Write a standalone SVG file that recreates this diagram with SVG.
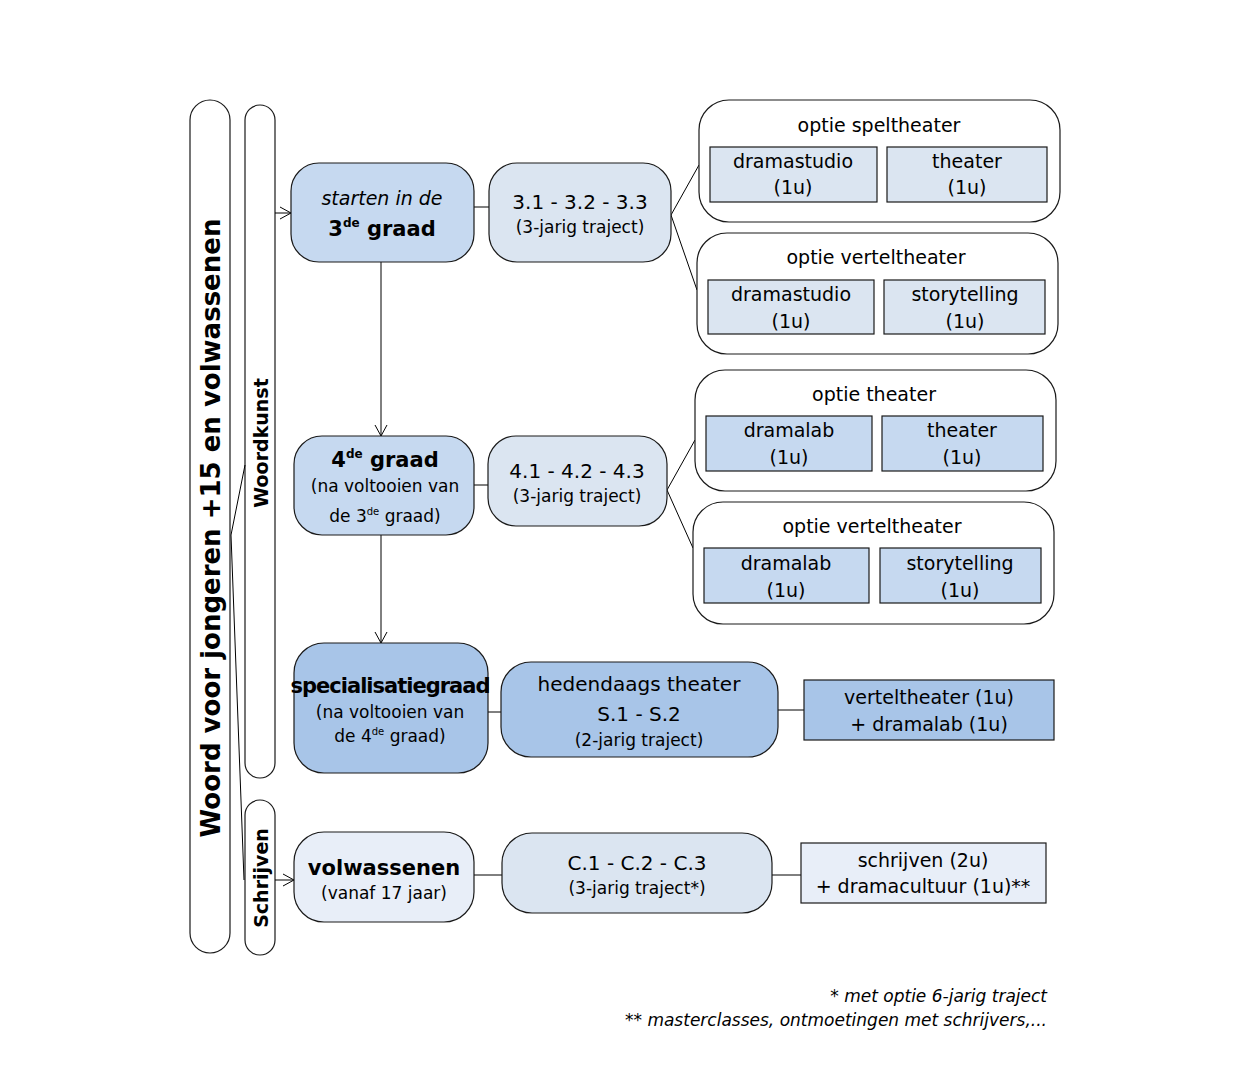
<svg xmlns="http://www.w3.org/2000/svg" width="1250" height="1073" viewBox="0 0 1250 1073">
<defs>
<marker id="ar" markerWidth="14" markerHeight="14" refX="12" refY="7" orient="auto" markerUnits="userSpaceOnUse"><path d="M1,1 L12,7 L1,13" fill="none" stroke="#000" stroke-width="1"/></marker>
<style>
text{font-family:"DejaVu Sans",sans-serif;fill:#000;text-anchor:middle}
.n{stroke:#1a1a1a;stroke-width:1.2}
.l{fill:#c6d9f0}.m{fill:#dbe5f1}.d{fill:#a8c5e8}.p{fill:#e8eef8}.w{fill:#fff}
.c{stroke:#000;stroke-width:1;fill:none}
.t{font-size:19px}.s{font-size:17px}
</style>
</defs>
<rect width="1250" height="1073" fill="#fff"/>
<g id="outer"><rect class="n w" x="190" y="100" width="40" height="853" rx="20"/><text class="t" font-weight="bold" font-size="26" transform="translate(220 528) rotate(-90)" style="font-size:26px">Woord voor jongeren +15 en volwassenen</text></g>
<g id="woordkunst"><rect class="n w" x="245" y="105" width="30" height="673" rx="15"/><text transform="translate(268 443) rotate(-90)" font-weight="bold" style="font-size:19px">Woordkunst</text></g>
<g id="schrijven"><rect class="n w" x="245" y="800" width="30" height="155" rx="15"/><text transform="translate(268 878) rotate(-90)" font-weight="bold" style="font-size:19px">Schrijven</text></g>
<g id="connectors">
<path class="c" d="M231,535 L245,465 M231,535 L244,880"/>
<path class="c" d="M275,213 H291" marker-end="url(#ar)"/>
<path class="c" d="M275,880 H294" marker-end="url(#ar)"/>
<path class="c" d="M381,262 V436" marker-end="url(#ar)"/>
<path class="c" d="M381,535 V643" marker-end="url(#ar)"/>
<path class="c" d="M474,207 H489 M671,215 L699,165 M671,215 L697,290 M474,485 H488 M667,490 L695,440 M667,490 L693,548 M488,712 H501 M778,710 H804 M474,875 H502 M772,875 H801"/>
</g>
<g id="n1"><rect class="n l" x="291" y="163" width="183" height="99" rx="28"/><text class="t" x="382" y="205" font-style="italic">starten in de</text><text x="382" y="236" font-weight="bold" style="font-size:21px">3<tspan font-size="12" dy="-9">de</tspan><tspan dy="9"> graad</tspan></text></g>
<g id="n2"><rect class="n m" x="489" y="163" width="182" height="99" rx="28"/><text class="t" x="580" y="209" style="font-size:20px">3.1 - 3.2 - 3.3</text><text class="s" x="580" y="233">(3-jarig traject)</text></g>
<g id="o1"><rect class="n w" x="699" y="100" width="361" height="122" rx="30"/><text class="t" x="879" y="132">optie speltheater</text>
<rect class="n m" x="710" y="147" width="167" height="55"/><text class="t" x="793" y="168">dramastudio</text><text class="t" x="793" y="194">(1u)</text>
<rect class="n m" x="887" y="147" width="160" height="55"/><text class="t" x="967" y="168">theater</text><text class="t" x="967" y="194">(1u)</text></g>
<g id="o2"><rect class="n w" x="697" y="233" width="361" height="121" rx="30"/><text class="t" x="876" y="264">optie verteltheater</text>
<rect class="n m" x="708" y="280" width="166" height="54"/><text class="t" x="791" y="301">dramastudio</text><text class="t" x="791" y="328">(1u)</text>
<rect class="n m" x="884" y="280" width="161" height="54"/><text class="t" x="965" y="301">storytelling</text><text class="t" x="965" y="328">(1u)</text></g>
<g id="n3"><rect class="n l" x="294" y="436" width="180" height="99" rx="28"/><text x="385" y="467" font-weight="bold" style="font-size:21px">4<tspan font-size="12" dy="-9">de</tspan><tspan dy="9"> graad</tspan></text><text class="s" x="385" y="492">(na voltooien van</text><text class="s" x="385" y="522">de 3<tspan font-size="10" dy="-7">de</tspan><tspan dy="7"> graad)</tspan></text></g>
<g id="n4"><rect class="n m" x="488" y="436" width="179" height="90" rx="28"/><text class="t" x="577" y="478" style="font-size:20px">4.1 - 4.2 - 4.3</text><text class="s" x="577" y="502">(3-jarig traject)</text></g>
<g id="o3"><rect class="n w" x="695" y="370" width="361" height="121" rx="30"/><text class="t" x="874" y="401">optie theater</text>
<rect class="n l" x="706" y="416" width="166" height="55"/><text class="t" x="789" y="437">dramalab</text><text class="t" x="789" y="464">(1u)</text>
<rect class="n l" x="882" y="416" width="161" height="55"/><text class="t" x="962" y="437">theater</text><text class="t" x="962" y="464">(1u)</text></g>
<g id="o4"><rect class="n w" x="693" y="502" width="361" height="122" rx="30"/><text class="t" x="872" y="533">optie verteltheater</text>
<rect class="n l" x="704" y="548" width="165" height="55"/><text class="t" x="786" y="570">dramalab</text><text class="t" x="786" y="597">(1u)</text>
<rect class="n l" x="880" y="548" width="161" height="55"/><text class="t" x="960" y="570">storytelling</text><text class="t" x="960" y="597">(1u)</text></g>
<g id="n5"><rect class="n d" x="294" y="643" width="194" height="130" rx="30"/><text x="390" y="693" font-weight="bold" style="font-size:21px;letter-spacing:-1px">specialisatiegraad</text><text class="s" x="390" y="718">(na voltooien van</text><text class="s" x="390" y="742">de 4<tspan font-size="10" dy="-7">de</tspan><tspan dy="7"> graad)</tspan></text></g>
<g id="n6"><rect class="n d" x="501" y="662" width="277" height="95" rx="30"/><text class="t" x="639" y="691" style="font-size:20px">hedendaags theater</text><text class="t" x="639" y="721" style="font-size:20px">S.1 - S.2</text><text class="s" x="639" y="746">(2-jarig traject)</text></g>
<g id="n7"><rect class="n d" x="804" y="680" width="250" height="60"/><text class="t" x="929" y="704">verteltheater (1u)</text><text class="t" x="929" y="731">+ dramalab (1u)</text></g>
<g id="n8"><rect class="n p" x="294" y="832" width="180" height="90" rx="30"/><text x="384" y="875" font-weight="bold" style="font-size:21px">volwassenen</text><text class="s" x="384" y="899">(vanaf 17 jaar)</text></g>
<g id="n9"><rect class="n m" x="502" y="833" width="270" height="80" rx="30"/><text class="t" x="637" y="870" style="font-size:20px">C.1 - C.2 - C.3</text><text class="s" x="637" y="894">(3-jarig traject*)</text></g>
<g id="n10"><rect class="n p" x="801" y="843" width="245" height="60"/><text class="t" x="923" y="867">schrijven (2u)</text><text class="t" x="923" y="893">+ dramacultuur (1u)**</text></g>
<g id="notes"><text x="1047" y="1002" font-style="italic" style="font-size:17px;text-anchor:end">* met optie 6-jarig  traject</text><text x="1047" y="1026" font-style="italic" style="font-size:17px;text-anchor:end">** masterclasses, ontmoetingen met schrijvers,...</text></g>
</svg>
